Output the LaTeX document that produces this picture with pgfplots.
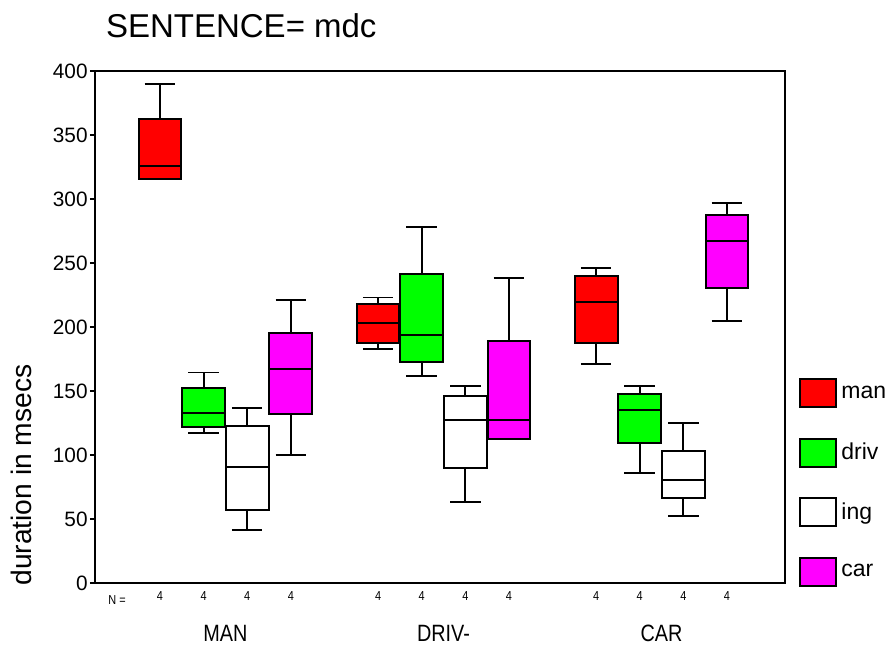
\documentclass[border=0pt]{standalone}
\usepackage{fontspec}
\setmainfont{Liberation Sans}
\newfontfamily\narrowfont[FakeStretch=0.84]{Liberation Sans}
\usepackage{pgfplots}
\pgfplotsset{compat=1.18}
\definecolor{cman}{RGB}{255,0,0}
\definecolor{cdriv}{RGB}{0,255,0}
\definecolor{cing}{RGB}{255,255,255}
\definecolor{ccar}{RGB}{255,0,255}
\pgfplotsset{
  boxs/.style={draw=black, line width=1pt, mark=none, fill=#1,
    legend image code/.code={\draw[black,line width=1pt,fill=#1] (0pt,-7pt) rectangle (18pt,7pt);}},
  whis/.style={forget plot, draw=black, line width=0.9pt, mark=none, unbounded coords=jump},
}
\begin{document}
\begin{tikzpicture}
\useasboundingbox (-47.5pt,-34pt) rectangle (397.5pt,291.5pt);
\begin{axis}[
  name=ax,
  at={(0pt,0pt)}, anchor=south west,
  scale only axis, width=345pt, height=256pt,
  xmin=-1.49, xmax=14.33, ymin=0, ymax=400,
  axis line style={line width=1pt},
  ytick={0,50,...,400},
  yticklabel style={font=\fontsize{10.4}{12}\selectfont, inner sep=1pt},
  ytick pos=left, ytick align=outside,
  major tick length=2.5pt,
  tick style={line width=0.8pt, black},
  xtick={0,1,2,3,5,6,7,8,10,11,12,13},
  xticklabels={4,4,4,4,4,4,4,4,4,4,4,4},
  xticklabel style={font=\narrowfont\fontsize{6.5}{8}\selectfont, yshift=-1pt},
  x tick style={draw=none},
  xtick pos=bottom,
  extra x ticks={1.5,6.5,11.5},
  extra x tick labels={MAN,DRIV-,CAR},
  extra x tick style={
    tick style={draw=black, line width=0.8pt},
    xtick align=outside,
    xticklabel style={font=\narrowfont\fontsize{11.8}{14}\selectfont, yshift=-14pt}},
  /pgf/number format/assume math mode=true,
  legend style={at={(1,0)}, anchor=south west, xshift=6pt, yshift=-3pt,
    draw=none, fill=none, font=\fontsize{11.5}{13}\selectfont,
    row sep=14.7pt, inner sep=1pt},
  legend cell align=left,
  clip=false,
]
% ---- MAN ----
\addplot[boxs=cman] coordinates {(-0.49,315.5) (0.49,315.5) (0.49,362.5) (-0.49,362.5)} -- cycle;
\addlegendentry{man}
\addplot[whis] coordinates {(-0.49,325.5) (0.49,325.5) (nan,nan) (0,362.5) (0,390) (nan,nan) (-0.35,390) (0.35,390)};
\addplot[boxs=cdriv] coordinates {(0.51,122) (1.49,122) (1.49,152) (0.51,152)} -- cycle;
\addlegendentry{driv}
\addplot[whis] coordinates {(0.51,132.5) (1.49,132.5) (nan,nan) (1,152) (1,164.5) (nan,nan) (0.65,164.5) (1.35,164.5) (nan,nan) (1,122) (1,117) (nan,nan) (0.65,117) (1.35,117)};
\addplot[boxs=cing] coordinates {(1.51,57) (2.49,57) (2.49,123) (1.51,123)} -- cycle;
\addlegendentry{ing}
\addplot[whis] coordinates {(1.51,90.8) (2.49,90.8) (nan,nan) (2,123) (2,137) (nan,nan) (1.65,137) (2.35,137) (nan,nan) (2,57) (2,41.6) (nan,nan) (1.65,41.6) (2.35,41.6)};
\addplot[boxs=ccar] coordinates {(2.51,132) (3.49,132) (3.49,195.3) (2.51,195.3)} -- cycle;
\addlegendentry{car}
\addplot[whis] coordinates {(2.51,167.3) (3.49,167.3) (nan,nan) (3,195.3) (3,221) (nan,nan) (2.65,221) (3.35,221) (nan,nan) (3,132) (3,100.3) (nan,nan) (2.65,100.3) (3.35,100.3)};
% ---- DRIV- ----
\addplot[boxs=cman, forget plot] coordinates {(4.51,187.7) (5.49,187.7) (5.49,218) (4.51,218)} -- cycle;
\addplot[whis] coordinates {(4.51,203) (5.49,203) (nan,nan) (5,218) (5,223) (nan,nan) (4.65,223) (5.35,223) (nan,nan) (5,187.7) (5,183) (nan,nan) (4.65,183) (5.35,183)};
\addplot[boxs=cdriv, forget plot] coordinates {(5.51,172.4) (6.49,172.4) (6.49,241.4) (5.51,241.4)} -- cycle;
\addplot[whis] coordinates {(5.51,193.75) (6.49,193.75) (nan,nan) (6,241.4) (6,278.4) (nan,nan) (5.65,278.4) (6.35,278.4) (nan,nan) (6,172.4) (6,161.7) (nan,nan) (5.65,161.7) (6.35,161.7)};
\addplot[boxs=cing, forget plot] coordinates {(6.51,89.8) (7.49,89.8) (7.49,146) (6.51,146)} -- cycle;
\addplot[whis] coordinates {(6.51,127.6) (7.49,127.6) (nan,nan) (7,146) (7,153.9) (nan,nan) (6.65,153.9) (7.35,153.9) (nan,nan) (7,89.8) (7,63.3) (nan,nan) (6.65,63.3) (7.35,63.3)};
\addplot[boxs=ccar, forget plot] coordinates {(7.51,112.8) (8.49,112.8) (8.49,189) (7.51,189)} -- cycle;
\addplot[whis] coordinates {(7.51,127.6) (8.49,127.6) (nan,nan) (8,189) (8,238.3) (nan,nan) (7.65,238.3) (8.35,238.3)};
% ---- CAR ----
\addplot[boxs=cman, forget plot] coordinates {(9.51,187.5) (10.49,187.5) (10.49,239.8) (9.51,239.8)} -- cycle;
\addplot[whis] coordinates {(9.51,219.8) (10.49,219.8) (nan,nan) (10,239.8) (10,246) (nan,nan) (9.65,246) (10.35,246) (nan,nan) (10,187.5) (10,171) (nan,nan) (9.65,171) (10.35,171)};
\addplot[boxs=cdriv, forget plot] coordinates {(10.51,109) (11.49,109) (11.49,148) (10.51,148)} -- cycle;
\addplot[whis] coordinates {(10.51,135.4) (11.49,135.4) (nan,nan) (11,148) (11,153.9) (nan,nan) (10.65,153.9) (11.35,153.9) (nan,nan) (11,109) (11,86.2) (nan,nan) (10.65,86.2) (11.35,86.2)};
\addplot[boxs=cing, forget plot] coordinates {(11.51,66.4) (12.49,66.4) (12.49,103) (11.51,103)} -- cycle;
\addplot[whis] coordinates {(11.51,80.2) (12.49,80.2) (nan,nan) (12,103) (12,124.7) (nan,nan) (11.65,124.7) (12.35,124.7) (nan,nan) (12,66.4) (12,52.6) (nan,nan) (11.65,52.6) (12.35,52.6)};
\addplot[boxs=ccar, forget plot] coordinates {(12.51,230.7) (13.49,230.7) (13.49,287.8) (12.51,287.8)} -- cycle;
\addplot[whis] coordinates {(12.51,267.4) (13.49,267.4) (nan,nan) (13,287.8) (13,296.6) (nan,nan) (12.65,296.6) (13.35,296.6) (nan,nan) (13,230.7) (13,204.7) (nan,nan) (12.65,204.7) (13.35,204.7)};
\end{axis}
\node[anchor=base west, font=\narrowfont\fontsize{6.5}{8}\selectfont, inner sep=0pt] at ([xshift=6.5pt,yshift=-10.7pt]ax.south west) {N =};
\node[anchor=base west, font=\fontsize{16.5}{20}\selectfont] at ([xshift=2pt,yshift=16.9pt]ax.north west) {SENTENCE= mdc};
\node[rotate=90, anchor=base west, font=\fontsize{14.1}{16}\selectfont, inner sep=0pt] at ([xshift=-31.5pt,yshift=-1.5pt]ax.south west) {duration in msecs};
\end{tikzpicture}
\end{document}
